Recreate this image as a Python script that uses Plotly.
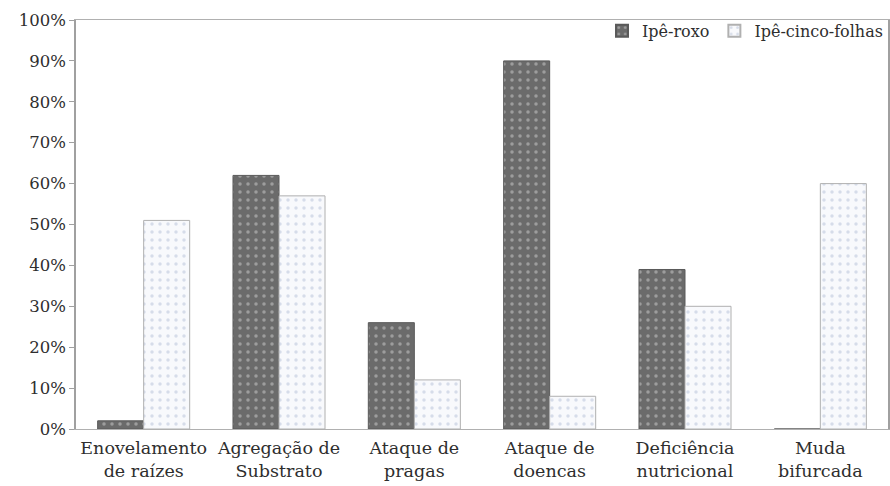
import plotly.graph_objects as go

categories = ["Enovelamento<br>de raízes", "Agregação de<br>Substrato", "Ataque de<br>pragas",
              "Ataque de<br>doencas", "Deficiência<br>nutricional", "Muda<br>bifurcada"]
ipe_roxo = [2, 62, 26, 90, 39, 0]
ipe_cinco_folhas = [51, 57, 12, 8, 30, 60]
y_ticks = [0, 10, 20, 30, 40, 50, 60, 70, 80, 90, 100]
y_tick_labels = [f"{v}%" for v in y_ticks]

FONT = "DejaVu Serif"
TXT = "#2e2e2e"

fig = go.Figure()
fig.add_trace(go.Bar(
    name="Ipê-roxo", x=categories, y=ipe_roxo,
    marker=dict(color="#6b6b6b", line=dict(color="#5a5a5a", width=1),
                pattern=dict(shape=".", fgcolor="#d0d0d0", bgcolor="#6b6b6b", size=8, solidity=0.15)),
))
fig.add_trace(go.Bar(
    name="Ipê-cinco-folhas", x=categories, y=ipe_cinco_folhas,
    marker=dict(color="#ffffff", line=dict(color="#b0b0b0", width=1),
                pattern=dict(shape=".", fgcolor="#b4c0d6", bgcolor="#f8f9fc", size=8, solidity=0.15)),
))

fig.update_layout(
    width=890, height=486,
    margin=dict(l=76, r=2, t=20, b=57, autoexpand=False),
    paper_bgcolor="white", plot_bgcolor="white",
    barmode="group", bargap=0.32, bargroupgap=0,
    font=dict(family=FONT, size=16, color=TXT),
    showlegend=True,
    legend=dict(orientation="h", x=1.0, y=1.015, xanchor="right", yanchor="top",
                font=dict(family=FONT, size=16, color=TXT),
                bgcolor="rgba(0,0,0,0)", itemsizing="constant",
                itemwidth=30, tracegroupgap=0, borderwidth=0),
    xaxis=dict(showline=True, linecolor="#b0b0b0", linewidth=1, mirror=True,
               ticks="", ticklabelstandoff=3,
               tickfont=dict(family=FONT, size=17.5, color=TXT)),
    yaxis=dict(range=[0, 100], tickvals=y_ticks, ticktext=y_tick_labels,
               showline=True, linecolor="#a0a0a0", linewidth=1.5, mirror=True,
               ticks="outside", ticklen=5, tickcolor="#a0a0a0",
               showgrid=False, zeroline=False,
               tickfont=dict(family=FONT, size=16.5, color=TXT)),
)

fig.write_html("out.html", config={"displayModeBar": False},
               post_script="document.body.style.margin='0';document.body.style.padding='0';")
